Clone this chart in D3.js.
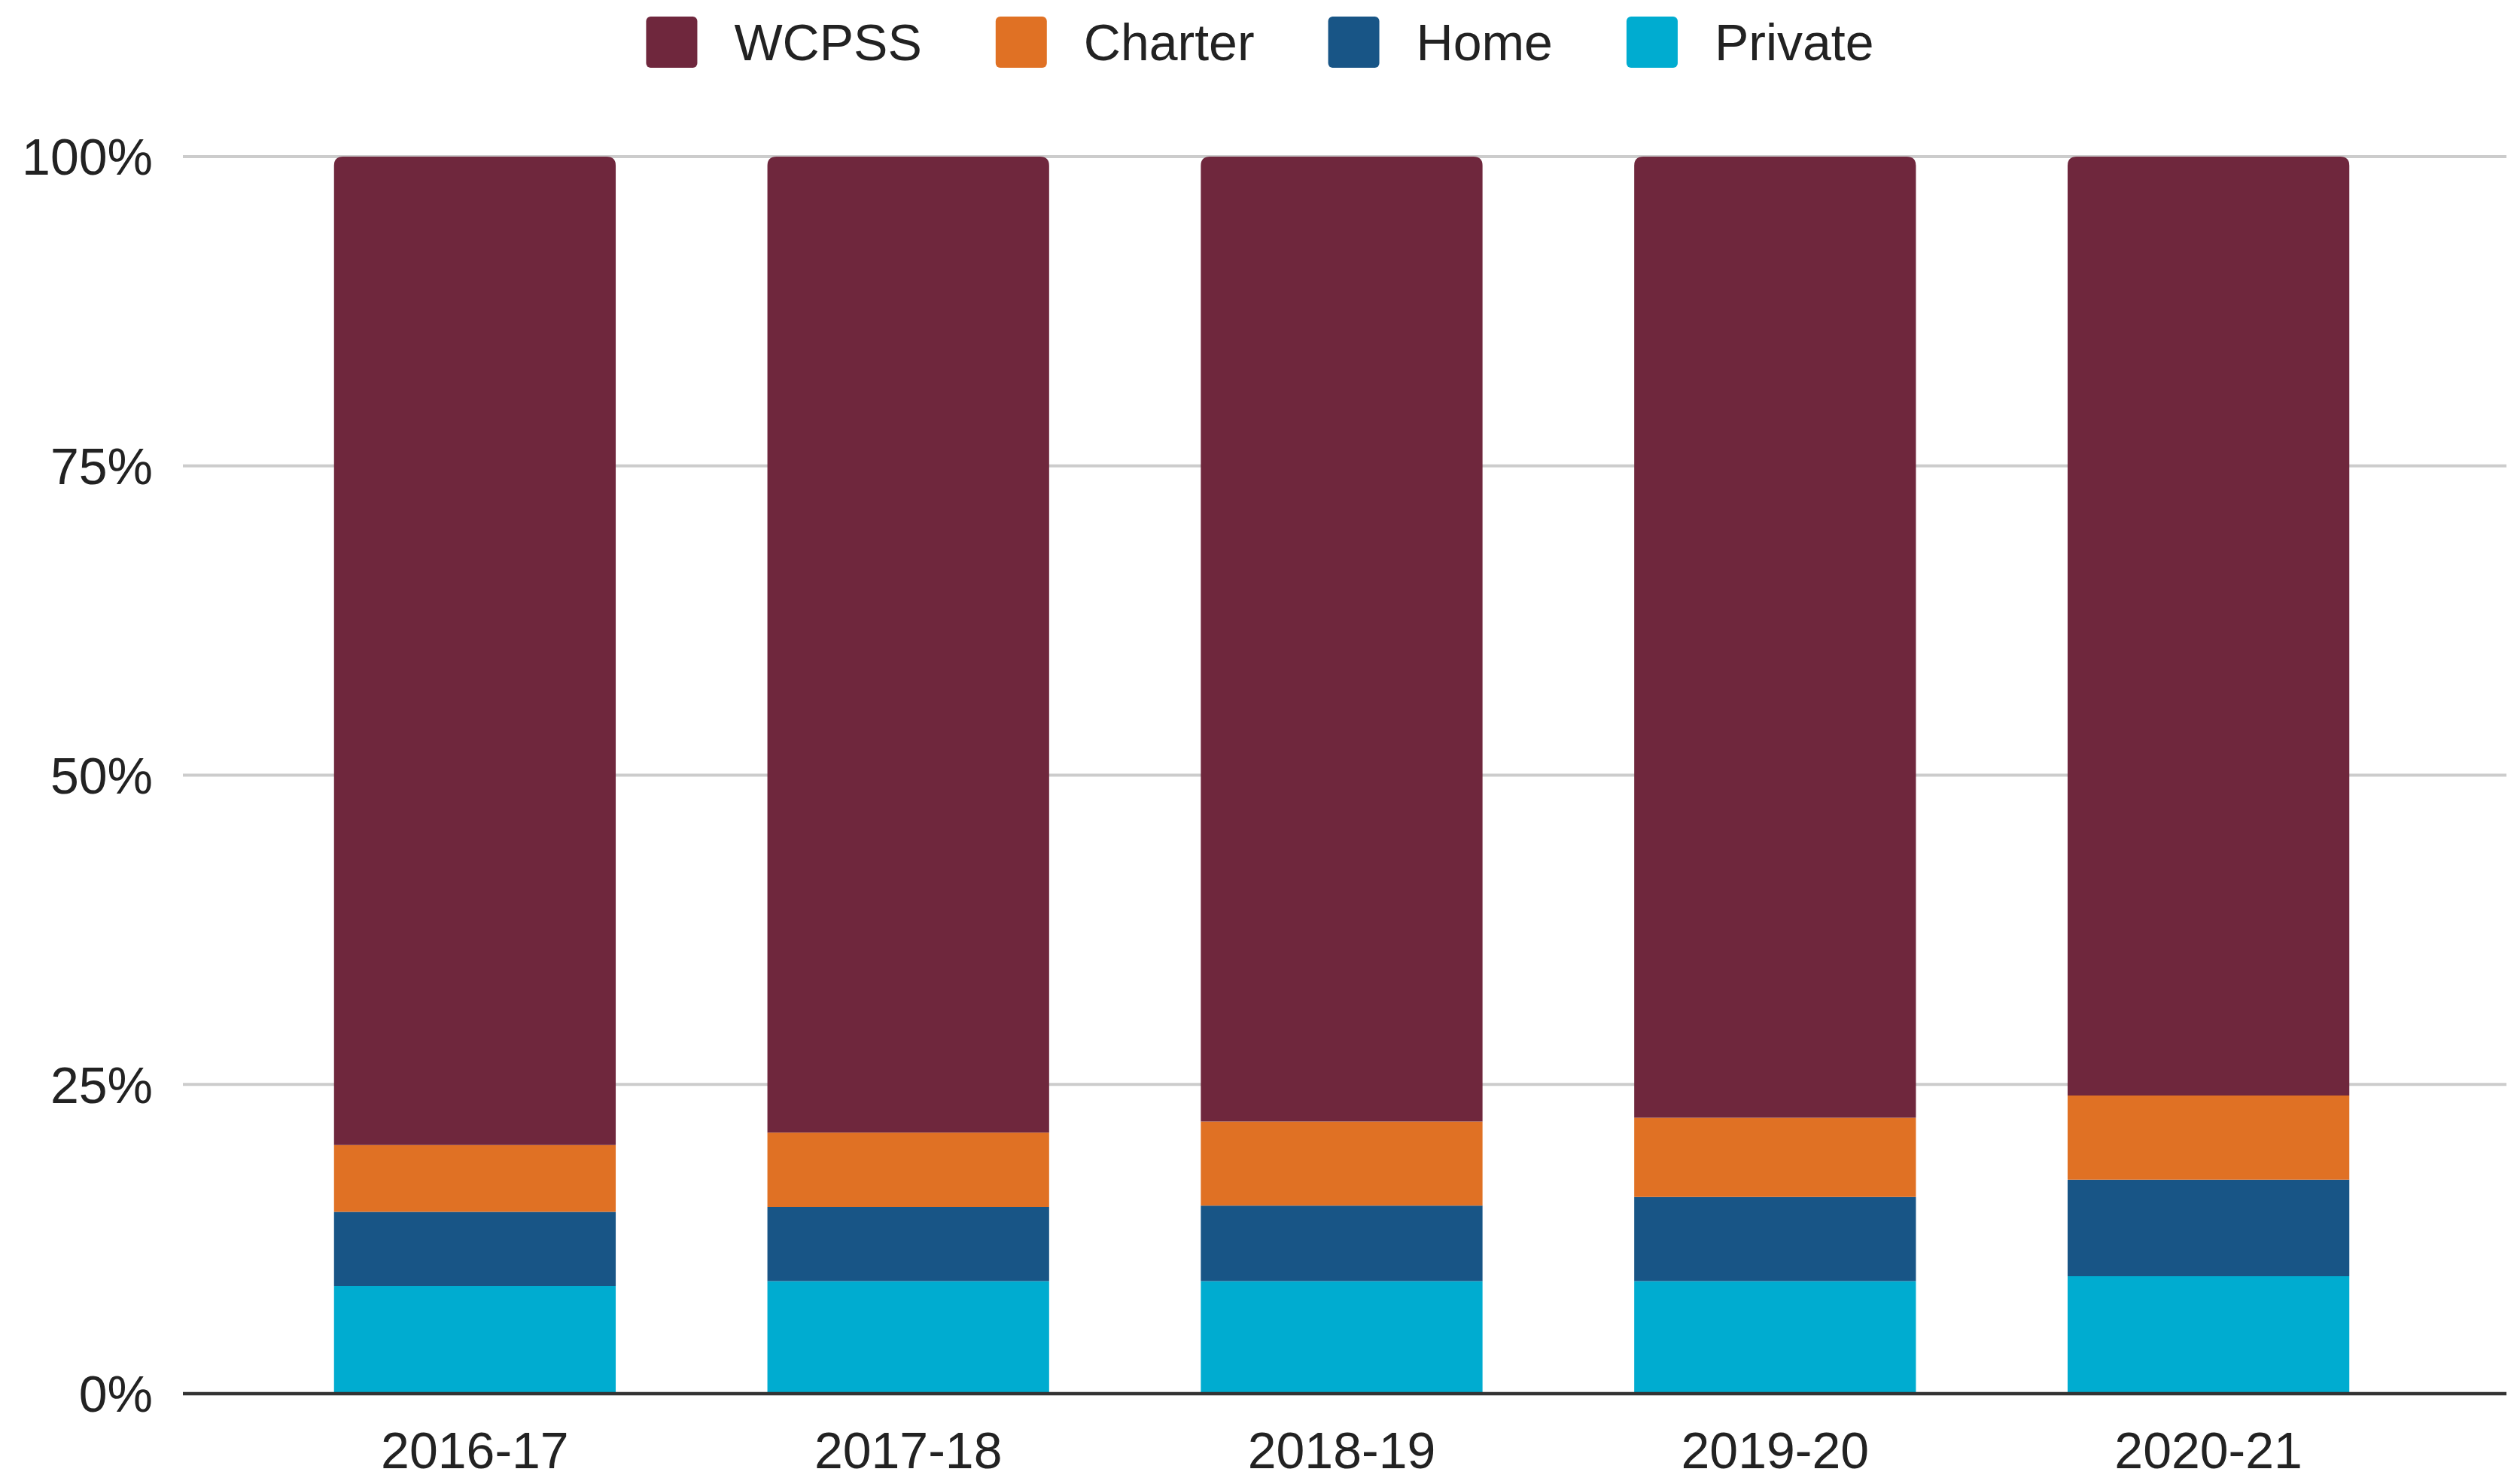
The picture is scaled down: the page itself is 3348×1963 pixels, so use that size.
<!DOCTYPE html>
<html>
<head>
<meta charset="utf-8">
<script src="https://cdn.jsdelivr.net/npm/d3@7"></script>
<style>
  body { margin: 0; background: #fff; }
  text { font-family: "Liberation Sans", Arial, sans-serif; fill: #222; }
</style>
</head>
<body>
<div id="chart"></div>
<script>
const years = ['2016-17', '2017-18', '2018-19', '2019-20', '2020-21']
const seriesNames = ['Private', 'Home', 'Charter', 'WCPSS']
const privateVals = [8.7, 9.1, 9.1, 9.1, 9.5]
const homeVals = [6.0, 6.0, 6.1, 6.8, 7.8]
const charterVals = [5.4, 6.0, 6.8, 6.4, 6.8]
const wcpssVals = [79.9, 78.9, 78.0, 77.7, 75.9]
const legendOrder = ['WCPSS', 'Charter', 'Home', 'Private']
const yTicks = [0, 25, 50, 75, 100]

const colors = {
  WCPSS: '#6f273d',
  Charter: '#e07124',
  Home: '#185586',
  Private: '#00acd0'
}

const W = 3348
const H = 1963

const rows = years.map((y, i) => ({
  year: y,
  Private: privateVals[i],
  Home: homeVals[i],
  Charter: charterVals[i],
  WCPSS: wcpssVals[i]
}))

const stacked = d3.stack().keys(seriesNames)(rows)

const svg = d3.select('#chart').append('svg').attr('width', W).attr('height', H)

const x = d3.scaleBand(years, [343, 3222]).paddingInner(0.35).paddingOuter(0.175)
const y = d3.scaleLinear([0, 100], [1851, 208])

// gridlines
svg.append('g')
  .selectAll('line')
  .data(yTicks.filter((t) => t > 0))
  .enter()
  .append('line')
  .attr('x1', 243)
  .attr('x2', 3330)
  .attr('y1', (d) => y(d))
  .attr('y2', (d) => y(d))
  .attr('stroke', '#cccccc')
  .attr('stroke-width', 4)

// y labels
svg.append('g')
  .selectAll('text')
  .data(yTicks)
  .enter()
  .append('text')
  .attr('x', 203)
  .attr('y', (d) => y(d))
  .attr('dy', '0.36em')
  .attr('text-anchor', 'end')
  .attr('font-size', 68)
  .text((d) => d + '%')

// bars
const r = 12
const layers = svg.append('g')
  .selectAll('g')
  .data(stacked)
  .enter()
  .append('g')
  .attr('fill', (s) => colors[s.key])

layers.selectAll('path')
  .data((s) => s.map((d) => ({ d, top: s.key === 'WCPSS' })))
  .enter()
  .append('path')
  .attr('d', ({ d, top }) => {
    const x0 = x(d.data.year)
    const x1 = x0 + x.bandwidth()
    const y0 = y(d[0])
    const y1 = y(d[1])
    if (!top) return `M${x0},${y0}V${y1}H${x1}V${y0}Z`
    return `M${x0},${y0}V${y1 + r}Q${x0},${y1} ${x0 + r},${y1}H${x1 - r}Q${x1},${y1} ${x1},${y1 + r}V${y0}Z`
  })

// baseline
svg.append('line')
  .attr('x1', 243)
  .attr('x2', 3330)
  .attr('y1', y(0))
  .attr('y2', y(0))
  .attr('stroke', '#333333')
  .attr('stroke-width', 4.5)

// x labels
svg.append('g')
  .selectAll('text')
  .data(years)
  .enter()
  .append('text')
  .attr('x', (d) => x(d) + x.bandwidth() / 2)
  .attr('y', 1950)
  .attr('text-anchor', 'middle')
  .attr('font-size', 68)
  .text((d) => d)

// legend
const legend = svg.append('g')
const items = legend.selectAll('g')
  .data(legendOrder)
  .enter()
  .append('g')
items.append('rect')
  .attr('width', 68)
  .attr('height', 68)
  .attr('y', 22)
  .attr('rx', 6)
  .attr('fill', (d) => colors[d])
items.append('text')
  .attr('x', 117)
  .attr('y', 80)
  .attr('font-size', 68)
  .text((d) => d)

let off = 0
items.each(function () {
  d3.select(this).attr('transform', `translate(${off},0)`)
  off += 117 + this.querySelector('text').getComputedTextLength() + 98
})
const totalW = off - 98
legend.attr('transform', `translate(${(W - totalW) / 2},0)`)
</script>
</body>
</html>
